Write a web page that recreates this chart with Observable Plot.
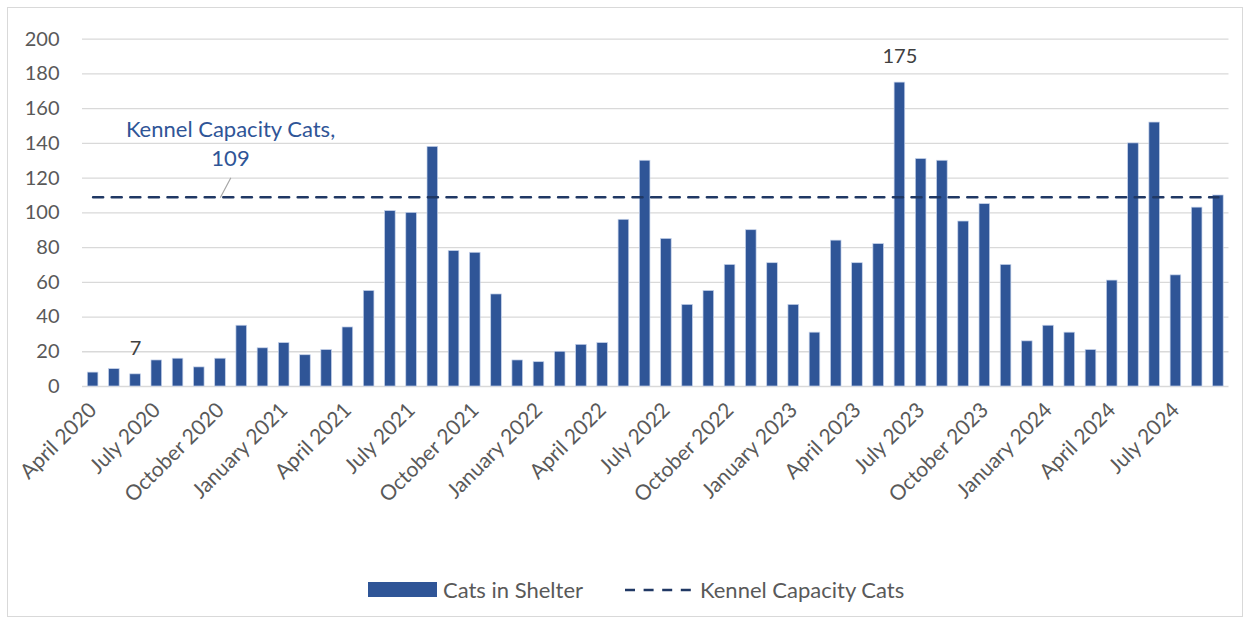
<!DOCTYPE html>
<html>
<head>
<meta charset="utf-8">
<script src="https://cdn.jsdelivr.net/npm/d3@7"></script>
<script src="https://cdn.jsdelivr.net/npm/@observablehq/plot@0.6"></script>
<style>
  html, body { margin: 0; padding: 0; background: #fff; }
  body { width: 1250px; height: 624px; position: relative; overflow: hidden; font-family: Lato, "Open Sans", sans-serif; }
  #frame { position: absolute; left: 7px; top: 7px; width: 1236px; height: 610px; border: 1px solid #d9d9d9; box-sizing: border-box; }
  #chart { position: absolute; left: 0; top: 0; }
  #legend { position: absolute; left: 368px; top: 576px; display: flex; align-items: center; font-size: 22px; color: #595959; white-space: nowrap; }
  .sw { display: inline-block; width: 69px; height: 15px; background: #2f5597; margin-right: 6px; }
  .ln { display: inline-block; margin-left: 42px; margin-right: 9px; }
  #chart g[aria-label="y-axis tick label"] text { font-size: 20px; }
  #chart g[aria-label="x-axis tick label"] text { font-size: 21px; }
</style>
</head>
<body>
<div id="frame"></div>
<div id="chart"></div>
<div id="legend"></div>
<script>
const months = [
  "April 2020","May 2020","June 2020","July 2020","August 2020","September 2020",
  "October 2020","November 2020","December 2020","January 2021","February 2021","March 2021",
  "April 2021","May 2021","June 2021","July 2021","August 2021","September 2021",
  "October 2021","November 2021","December 2021","January 2022","February 2022","March 2022",
  "April 2022","May 2022","June 2022","July 2022","August 2022","September 2022",
  "October 2022","November 2022","December 2022","January 2023","February 2023","March 2023",
  "April 2023","May 2023","June 2023","July 2023","August 2023","September 2023",
  "October 2023","November 2023","December 2023","January 2024","February 2024","March 2024",
  "April 2024","May 2024","June 2024","July 2024","August 2024","September 2024"
];
const catsInShelter = [
  8, 10, 7, 15, 16, 11,
  16, 35, 22, 25, 18, 21,
  34, 55, 101, 100, 138, 78,
  77, 53, 15, 14, 20, 24,
  25, 96, 130, 85, 47, 55,
  70, 90, 71, 47, 31, 84,
  71, 82, 175, 131, 130, 95,
  105, 70, 26, 35, 31, 21,
  61, 140, 152, 64, 103, 110
];
const kennelCapacity = 109;
const labelledMonths = ["June 2020", "June 2023"];
const xTickLabels = [
  "April 2020","July 2020","October 2020","January 2021","April 2021","July 2021",
  "October 2021","January 2022","April 2022","July 2022","October 2022","January 2023",
  "April 2023","July 2023","October 2023","January 2024","April 2024","July 2024"
];
const yTicks = [0, 20, 40, 60, 80, 100, 120, 140, 160, 180, 200];
const seriesNames = ["Cats in Shelter", "Kennel Capacity Cats"];
const annotationMonth = "October 2020";

const data = months.map((m, i) => ({month: m, cats: catsInShelter[i], capacity: kennelCapacity}));

const leader = {
  draw(context, l) { context.moveTo(0, 0); context.lineTo(0, -l); }
};

const chart = Plot.plot({
  width: 1250,
  height: 540,
  marginLeft: 82,
  marginRight: 21.5,
  marginTop: 38.7,
  marginBottom: 154,
  style: { fontFamily: "Lato, 'Open Sans', sans-serif", fontSize: "20px", color: "#595959", background: "transparent", overflow: "visible" },
  x: { domain: months, paddingInner: 0.5, paddingOuter: 0.25, round: false, label: null, axis: null },
  y: { domain: [0, 200], label: null, axis: null },
  marks: [
    Plot.gridY(yTicks, { stroke: "#d9d9d9", strokeOpacity: 1, strokeWidth: 1.3 }),
    Plot.axisY(yTicks, { tickSize: 0, tickPadding: 23, fill: "#595959", fontSize: 20, label: null }),
    Plot.axisX(xTickLabels, { tickSize: 0, tickPadding: 20, tickRotate: -45, fill: "#595959", fontSize: 21, label: null }),
    Plot.barY(data, { x: "month", y: "cats", fill: "#2f5597", stroke: "#c5d2ea", strokeWidth: 0.7 }),
    Plot.lineY(data, { x: "month", y: "capacity", stroke: "#203864", strokeWidth: 2.6, strokeDasharray: "10,8.6" }),
    Plot.text(data.filter(d => labelledMonths.includes(d.month)), {
      x: "month", y: "cats", text: d => String(d.cats), dy: -26, lineAnchor: "middle",
      fill: "#404040", fontSize: 20
    }),
    Plot.vector(data.filter(d => d.month === annotationMonth), {
      x: "month", y: "capacity", length: 21.5, rotate: 28, anchor: "start",
      shape: leader, stroke: "#a6a6a6", strokeWidth: 1.2
    }),
    Plot.text(data.filter(d => d.month === annotationMonth), {
      x: "month", y: "capacity", text: d => `${seriesNames[1]},\n${d.capacity}`,
      dx: 10, dy: -55, lineAnchor: "middle", lineHeight: 1.3, fill: "#2f5597", fontSize: 22
    })
  ]
});
document.getElementById("chart").appendChild(chart);

const legend = document.getElementById("legend");
legend.innerHTML =
  `<span class="sw"></span><span>${seriesNames[0]}</span>` +
  `<svg class="ln" width="66" height="6"><line x1="0" y1="3" x2="66" y2="3" stroke="#203864" stroke-width="2.6" stroke-dasharray="10,8.6"/></svg>` +
  `<span>${seriesNames[1]}</span>`;
</script>
</body>
</html>
